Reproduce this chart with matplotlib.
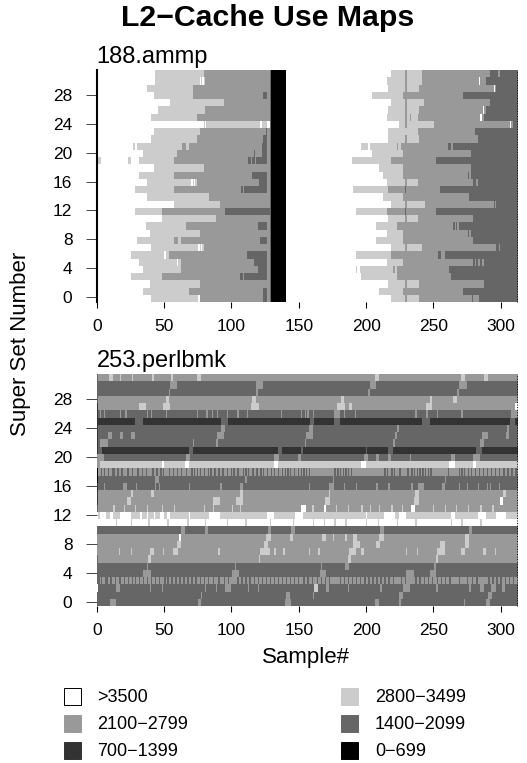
import numpy as np
import matplotlib
matplotlib.use("Agg")
import matplotlib.pyplot as plt
from matplotlib.colors import ListedColormap
from matplotlib.patches import Rectangle

plt.rcParams['font.family'] = ['Liberation Sans', 'DejaVu Sans']

# levels: 0 black .. 5 white
level_colors = ['#000000', '#333333', '#666666', '#999999', '#cccccc', '#ffffff']
legend_labels = ['>3500', '2800\u22123499', '2100\u22122799', '1400\u22122099', '700\u22121399', '0\u2212699']
legend_levels = [5, 4, 3, 2, 1, 0]
n_samples = 312
n_rows = 32
x_ticks = [0, 50, 100, 150, 200, 250, 300]
y_ticks = [0, 4, 8, 12, 16, 20, 24, 28]

# 188.ammp, all lists run from row 31 down to row 0
ammp_light1 = [43, 43, 37, 42, 54, 45, 40, 79, 42, 40, 30, 34, 31, 42, 31, 37, 28, 37, 57, 28, 48, 36, 39, 30, 40, 25, 31, 34, 25, 39, 34, 40]
ammp_mid1 = [79, 80, 71, 71, 94, 80, 74, 129, 76, 74, 68, 59, 57, 79, 57, 74, 57, 83, 91, 48, 88, 66, 76, 62, 79, 53, 62, 62, 48, 76, 68, 76]
ammp_dark1 = [128, 128, 128, 123, 128, 128, 128, 129, 125, 123, 122, 122, 118, 128, 115, 120, 109, 128, 128, 95, 128, 119, 128, 121, 128, 111, 116, 119, 109, 128, 123, 123]
ammp_light2 = [218, 215, 216, 204, 218, 216, 215, 224, 216, 216, 196, 204, 189, 209, 212, 215, 190, 212, 218, 192, 216, 207, 215, 207, 218, 192, 215, 195, 196, 216, 209, 218]
ammp_mid2 = [241, 241, 239, 227, 242, 239, 238, 250, 238, 239, 225, 227, 218, 227, 227, 238, 216, 227, 243, 215, 238, 222, 227, 227, 241, 218, 227, 222, 222, 239, 227, 239]
ammp_dark2 = [291, 288, 296, 271, 291, 288, 287, 308, 280, 282, 264, 277, 251, 277, 277, 279, 254, 276, 294, 251, 279, 268, 277, 279, 296, 258, 287, 261, 262, 287, 271, 283]
# row, start, end, level
ammp_notches = [
    (30, 76, 77, 5), (30, 78, 79, 5), (28, 39, 40, 5), (26, 43, 44, 5), (24, 80, 81, 5),
    (24, 121, 122, 5), (24, 126, 128, 5), (23, 40, 41, 5), (21, 27, 28, 4), (21, 63, 66, 3),
    (19, 23, 25, 4), (19, 1, 3, 4), (20, 116, 117, 2), (19, 112, 114, 2), (19, 115, 117, 2),
    (16, 70, 71, 5), (16, 72, 73, 5), (15, 107, 108, 2), (8, 57, 60, 3), (7, 75, 76, 5),
    (7, 77, 78, 5), (6, 50, 51, 5), (5, 59, 60, 5), (4, 32, 33, 5), (3, 106, 108, 2),
    (0, 75, 76, 5), (31, 297, 299, 3), (30, 283, 284, 5), (29, 294, 295, 5), (26, 286, 287, 5),
    (25, 213, 214, 5), (25, 232, 233, 3), (25, 284, 285, 5), (24, 306, 307, 5), (23, 229, 233, 4),
    (23, 235, 236, 4), (21, 201, 202, 5), (21, 222, 223, 3), (21, 260, 262, 2), (17, 211, 212, 5),
    (17, 275, 276, 2), (16, 281, 282, 3), (15, 228, 229, 2), (12, 228, 229, 2), (13, 295, 296, 3),
    (10, 264, 265, 2), (10, 266, 267, 2), (9, 275, 276, 2), (7, 298, 299, 3), (6, 253, 255, 2),
    (6, 255, 256, 3), (5, 279, 280, 2), (5, 281, 282, 2), (5, 284, 285, 2), (4, 192, 193, 4),
    (4, 219, 221, 3), (0, 278, 279, 2), (12, 126, 128, 2),
]
ammp_bar_rows = [31, 30, 29, 27, 26, 25, 24, 22, 16, 13, 11, 7, 2, 0]

# 253.perlbmk, base level of each row from row 31 down to row 0
perl_base = [3, 2, 2, 3, 3, 2, 1, 2, 2, 2, 1, 2, 4, 3, 2, 2, 3, 3, 3, 4, 5, 2, 3, 3, 3, 3, 2, 2, 3, 2, 2, 2]
perl_col0 = [2, 2, 2, 2, 1, 1, 1, 1, 1, 1, 1, 3, 3, 0, 0, 1, 1, 1, 2, 5, 5, 2, 3, 3, 3, 2, 2, 2, 2, 5, 2, 2]
perl_notches = [
    (31, 9, 12, 4), (31, 17, 18, 4), (31, 26, 27, 4), (31, 41, 42, 4), (31, 55, 56, 4), (31, 74, 77, 4),
    (31, 206, 209, 4), (31, 270, 273, 4), (31, 287, 290, 4),
    (30, 54, 59, 3), (30, 118, 123, 3), (30, 202, 207, 3), (30, 268, 274, 3),
    (29, 53, 54, 3), (29, 118, 119, 3), (29, 201, 202, 3), (29, 267, 268, 3),
    (28, 51, 53, 4), (28, 115, 118, 4), (28, 181, 183, 4), (28, 247, 248, 4), (28, 264, 267, 4),
    (27, 31, 36, 4), (27, 49, 54, 4), (27, 114, 120, 4), (27, 178, 184, 4), (27, 187, 189, 4), (27, 244, 248, 4), (27, 310, 312, 5),
    (25, 28, 34, 2), (25, 92, 97, 2), (25, 158, 161, 2), (25, 176, 180, 2), (25, 241, 247, 2), (25, 306, 310, 2),
    (24, 92, 95, 3), (24, 157, 160, 3), (24, 222, 224, 3), (24, 304, 305, 3),
    (23, 8, 11, 3), (23, 17, 19, 3), (23, 25, 28, 3), (23, 89, 94, 3), (23, 155, 160, 3), (23, 221, 222, 3), (23, 285, 290, 3), (23, 303, 305, 3),
    (22, 2, 8, 3), (22, 71, 72, 3), (22, 88, 90, 3), (22, 154, 155, 3), (22, 219, 221, 3), (22, 284, 287, 3),
    (21, 1, 4, 2), (21, 68, 71, 2), (21, 134, 137, 2), (21, 151, 153, 2), (21, 199, 200, 2), (21, 216, 219, 2), (21, 281, 285, 2),
    (20, 1, 5, 3), (20, 66, 69, 3), (20, 131, 135, 3), (20, 149, 151, 3), (20, 198, 201, 3), (20, 207, 209, 3), (20, 216, 218, 3), (20, 232, 233, 3), (20, 262, 265, 3), (20, 279, 284, 3),
    (19, 1, 2, 3), (19, 48, 50, 5), (19, 65, 68, 5), (19, 131, 134, 5), (19, 196, 199, 5), (19, 261, 265, 5), (19, 279, 281, 5),
    (17, 43, 46, 3), (17, 110, 111, 3), (17, 175, 176, 3), (17, 258, 259, 3),
    (15, 25, 27, 4), (15, 40, 42, 4), (15, 106, 108, 4), (15, 172, 173, 4), (15, 236, 239, 4), (15, 301, 303, 4),
    (14, 22, 25, 4), (14, 86, 91, 4), (14, 103, 108, 4), (14, 169, 173, 4), (14, 235, 239, 4), (14, 299, 301, 5),
    (13, 151, 155, 5), (13, 159, 161, 4), (13, 168, 170, 5), (13, 233, 236, 5),
    (10, 62, 65, 3), (10, 80, 82, 3), (10, 127, 129, 3), (10, 144, 147, 3), (10, 210, 213, 3), (10, 276, 278, 3),
    (9, 61, 62, 5), (9, 125, 129, 4), (9, 143, 145, 4), (9, 167, 170, 4), (9, 175, 176, 4), (9, 184, 185, 4), (9, 190, 193, 4), (9, 209, 213, 4), (9, 273, 276, 4),
    (8, 59, 62, 4), (8, 124, 127, 4), (8, 190, 195, 4), (8, 207, 210, 4), (8, 254, 258, 4), (8, 273, 276, 4),
    (7, 16, 17, 4), (7, 25, 26, 4), (7, 39, 42, 4), (7, 49, 50, 4), (7, 56, 60, 4), (7, 90, 91, 4), (7, 121, 128, 4), (7, 131, 133, 4), (7, 138, 139, 4),
    (7, 157, 158, 4), (7, 164, 165, 4), (7, 187, 192, 4), (7, 196, 198, 4), (7, 229, 230, 4), (7, 237, 238, 4), (7, 252, 258, 4), (7, 270, 273, 4), (7, 286, 288, 4), (7, 295, 296, 4),
    (6, 38, 40, 4), (6, 120, 121, 4), (6, 186, 188, 4), (6, 251, 253, 4),
    (5, 37, 38, 3), (5, 102, 103, 3), (5, 166, 167, 3), (5, 184, 187, 3), (5, 250, 251, 3),
    (4, 34, 40, 3), (4, 100, 105, 3), (4, 165, 170, 3), (4, 229, 235, 3), (4, 247, 251, 3),
    (2, 14, 17, 3), (2, 39, 40, 3), (2, 48, 49, 3), (2, 80, 81, 3), (2, 88, 89, 3), (2, 95, 99, 3), (2, 112, 113, 3), (2, 119, 120, 3),
    (2, 161, 164, 4), (2, 170, 172, 3), (2, 186, 187, 3), (2, 210, 211, 3), (2, 227, 232, 3), (2, 251, 253, 3), (2, 276, 277, 3), (2, 284, 287, 3), (2, 292, 296, 3), (2, 300, 302, 3),
    (1, 77, 78, 3), (1, 140, 143, 3), (1, 160, 161, 3), (1, 224, 227, 3), (1, 290, 293, 3),
    (0, 10, 14, 3), (0, 75, 77, 3), (0, 139, 144, 3), (0, 206, 209, 3), (0, 224, 225, 3), (0, 272, 273, 3), (0, 288, 291, 3),
]
# thin one-sample stripes: row, level, columns
perl_stripes = [
    (26, 3, [2, 5, 17, 21, 37, 40, 51, 74, 81, 85, 89, 96, 104, 111, 136, 151, 154, 156, 160, 176, 177, 178, 179, 183, 191, 236, 244, 252, 270, 307, 308, 309, 310, 311]),
    (18, 2, [3, 5, 8, 11, 12, 15, 18, 22, 23, 26, 30, 33, 36, 41, 44, 47, 49, 53, 56, 59, 62, 66, 70, 72, 74, 76, 79, 82, 84, 87, 90, 93, 96, 99, 101, 104, 108, 110, 112, 115, 118, 121, 123, 126, 129, 131, 134, 137, 139, 141, 143, 146, 149, 151, 153, 155, 157, 176, 178, 180, 182, 184, 186, 188, 213, 215, 218, 220, 224, 230, 233, 235, 237, 239, 241, 243, 245, 247, 260, 268, 270, 272, 275, 277, 280, 283, 286, 289, 292, 295, 298, 301, 304, 307, 310]),
    (16, 3, [5, 19, 20, 21, 29, 43, 46, 68, 91, 92, 106, 107, 157, 172, 173, 174, 175, 183, 192, 207, 216, 233, 238, 239, 240, 241, 256, 257, 268, 274, 282, 289, 291, 298]),
    (13, 4, [12, 20, 28, 37, 48, 57, 79, 86, 100, 106, 151, 177, 186, 196, 202, 209, 218, 226, 249, 258, 266, 275, 284, 293]),
    (12, 5, [2, 3, 4, 5, 6, 10, 11, 17, 18, 19, 20, 21, 22, 23, 24, 32, 37, 42, 47, 48, 49, 52, 53, 68, 83, 84, 85, 86, 87, 88, 89, 90, 126, 127, 128, 129, 130, 147, 148, 149, 150, 151, 152, 199, 213, 214, 215, 216, 217, 218, 219, 220, 224, 225, 226, 227, 228, 262, 263, 264, 282, 283, 284, 285, 286, 287, 296, 297, 298, 299, 300, 301, 302]),
    (11, 4, [14, 25, 38, 52, 67, 80, 96, 110, 128, 145, 160, 168, 176, 184, 199, 208, 222, 236, 262, 270, 284]),
    (3, 2, [1, 3, 6, 7, 10, 13, 16, 17, 20, 23, 26, 28, 31, 34, 37, 40, 43, 46, 50, 52, 55, 58, 61, 64, 67, 70, 73, 76, 79, 82, 86, 90, 94, 97, 104, 107, 110, 113, 116, 119, 122, 125, 128, 131, 134, 137, 140, 143, 146, 149, 153, 156, 159, 163, 166, 169, 172, 180, 183, 186, 189, 192, 195, 198, 201, 204, 207, 210, 213, 216, 219, 225, 228, 236, 239, 242, 245, 248, 252, 255, 258, 261, 268, 274, 278, 281, 290, 293, 296, 299, 302, 305, 308]),
]


def ammp_matrix():
    mat = np.full((n_rows, n_samples), 5)
    for i in range(n_rows):
        r = n_rows - 1 - i
        mat[r, ammp_light1[i]:ammp_mid1[i]] = 4
        mat[r, ammp_mid1[i]:ammp_dark1[i]] = 3
        mat[r, ammp_dark1[i]:126] = 2
        mat[r, 126:128] = 3 if ammp_mid1[i] < 126 else 5
        mat[r, 128:129] = 2
        mat[r, 129:140] = 0
        mat[r, ammp_light2[i]:ammp_mid2[i]] = 4
        mat[r, ammp_mid2[i]:ammp_dark2[i]] = 3
        mat[r, ammp_dark2[i]:] = 2
        mat[r, 0] = 0
    for r in ammp_bar_rows:
        mat[r, 228:230] = 3
    for r, a, b, lev in ammp_notches:
        mat[r, a:b] = lev
    return mat


def perl_matrix():
    mat = np.zeros((n_rows, n_samples), dtype=int)
    for i in range(n_rows):
        r = n_rows - 1 - i
        mat[r, :] = perl_base[i]
        mat[r, 0] = perl_col0[i]
    for r, lev, cols in perl_stripes:
        mat[r, cols] = lev
    for r, a, b, lev in perl_notches:
        mat[r, a:b] = lev
    return mat


W, H = 527.0, 763.0


def add_panel(box, mat, name):
    # box in pixels: left, top, right, bottom
    ax = fig.add_axes([box[0] / W, 1 - box[3] / H, (box[2] - box[0]) / W, (box[3] - box[1]) / H])
    ax.imshow(mat, origin='lower', aspect='auto', cmap=cmap, vmin=0, vmax=5,
              extent=(0, n_samples, -0.6, 31.4), interpolation='nearest')
    for s in ax.spines.values():
        s.set_visible(False)
    ax.set_xticks(x_ticks)
    ax.set_yticks(y_ticks)
    ax.tick_params(axis='x', length=4.5, width=0.8, labelsize=12.5, pad=8)
    ax.tick_params(axis='y', length=8, width=0.7, color='#444444', labelsize=12.5, pad=9.5)
    ax.text(0, 1.008, name, transform=ax.transAxes, fontsize=17, ha='left', va='bottom')
    ax.axvline(n_samples, color='black', lw=0.7, ls=':', clip_on=False)
    return ax


cmap = ListedColormap(level_colors)
fig = plt.figure(figsize=(5.27, 7.63), dpi=100)

ax1 = add_panel((96.7, 70, 517, 301.7), ammp_matrix(), '188.ammp')
ax1.spines['left'].set_visible(True)
ax1.spines['left'].set_linewidth(1.5)
ax2 = add_panel((96.7, 374, 517, 606), perl_matrix(), '253.perlbmk')

fig.text(268 / W, 1 - 26 / H, 'L2\u2212Cache Use Maps', fontsize=21.8, fontweight='bold', ha='center', va='baseline')
fig.text(21 / W, 1 - 344 / H, 'Super Set Number', fontsize=16, rotation=90, ha='center', va='center')
fig.text(306 / W, 1 - 657 / H, 'Sample#', fontsize=16, ha='center', va='center')

# legend, two columns of three
for i, (label, lev) in enumerate(zip(legend_labels, legend_levels)):
    col = i % 2
    row = i // 2
    sx = [64, 341][col]
    tx = [97, 375][col]
    sy = [688, 715, 742][row]
    edge = 'black' if lev == 5 else level_colors[lev]
    fig.add_artist(Rectangle((sx / W, 1 - (sy + 17) / H), 17 / W, 17 / H, transform=fig.transFigure,
                             facecolor=level_colors[lev], edgecolor=edge, lw=0.7))
    fig.text(tx / W, 1 - (sy + 9.5) / H, label, fontsize=13, ha='left', va='center')

fig.savefig('out.png', dpi=100)
